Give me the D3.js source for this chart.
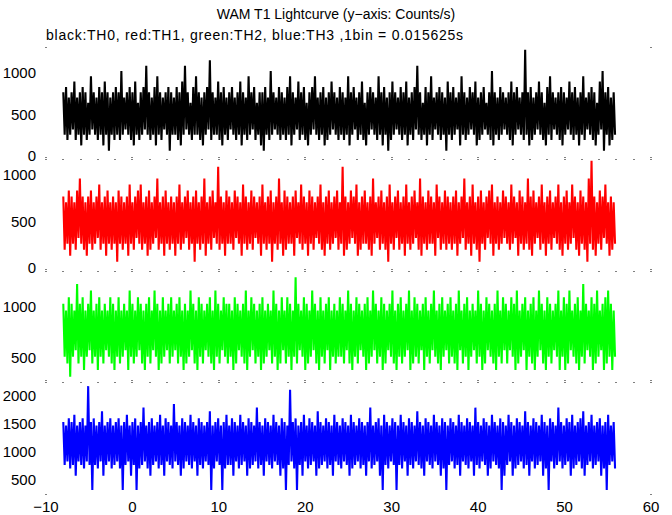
<!DOCTYPE html>
<html><head><meta charset="utf-8">
<script src="https://cdn.jsdelivr.net/npm/d3@7"></script>
<style>
html,body{margin:0;padding:0;background:#fff;}
svg{display:block;font-family:"Liberation Sans",Arial,Helvetica,sans-serif;}
</style>
</head><body>
<svg id="chart" width="672" height="515"></svg>
<script>
// ---- text ----
const titleText = "WAM T1 Lightcurve (y\u2212axis: Counts/s)";
const subtitleText = "black:TH0, red:TH1, green:TH2, blue:TH3 ,1bin = 0.015625s";

// ---- x axis ----
const xDomain = [-10, 60];
const xTickValues = [-10, 0, 10, 20, 30, 40, 50, 60];
const timeStart = -8;        // first bin time (s)
const groupWidth = 0.32;     // seconds per plotted min/max group

// ---- per-panel y ranges and tick labels ----
const th0Domain = [-36, 1313], th0Ticks = [0, 500, 1000];
const th1Domain = [-32, 1172], th1Ticks = [0, 500, 1000];
const th2Domain = [269, 1346], th2Ticks = [500, 1000];
const th3Domain = [250, 2250], th3Ticks = [500, 1000, 1500, 2000];

// ---- series: per-group max / min count rate (counts/s) ----
const th0Hi = [
768,832,704,768,896,704,768,832,768,640,960,768,704,832,768,896,768,704,768,832,
768,1024,704,768,832,768,896,640,768,832,1088,768,704,832,960,768,704,768,832,768,
704,832,768,896,1088,768,640,832,960,768,704,768,832,1152,768,704,896,768,832,704,
768,832,704,768,896,768,704,960,768,832,640,768,768,832,704,1024,768,704,832,768,
704,832,960,768,704,896,768,832,640,768,832,960,704,768,832,704,768,896,768,704,
832,768,704,960,768,832,704,768,896,640,768,832,768,704,960,768,832,704,768,896,
768,704,832,768,896,704,768,832,1088,768,640,832,768,960,704,768,832,768,704,896,
768,832,704,768,960,768,704,832,768,896,704,768,832,640,768,1024,768,704,832,768,
704,768,896,768,832,704,768,1280,768,832,704,768,896,768,640,832,960,768,704,768,
832,768,704,896,768,832,704,768,960,704,768,832,768,640,896,1024,768,832,704,768];
const th0Lo = [
256,192,256,320,192,256,128,256,192,256,320,256,192,256,128,256,64,256,192,256,
192,256,320,256,192,128,256,192,256,320,256,192,256,128,256,192,320,256,64,256,
256,192,128,256,320,256,192,256,256,192,128,256,320,192,256,256,192,128,256,192,
320,256,192,256,128,256,192,256,320,192,256,128,64,256,192,256,320,256,192,256,
192,256,128,256,320,192,256,192,128,256,320,256,192,256,128,192,256,320,256,192,
256,192,256,128,256,320,192,256,192,128,256,320,256,192,256,128,256,64,192,256,
320,256,192,256,128,256,192,320,256,192,256,128,256,192,320,256,192,256,64,256,
192,256,320,128,256,192,256,320,256,128,192,256,320,256,192,128,256,192,256,320,
256,192,128,256,320,256,192,256,128,192,256,320,256,192,128,256,192,320,256,192,
128,256,320,256,192,256,128,256,192,320,256,192,128,256,320,64,256,128,192,256];

const th1Hi = [
768,704,832,768,704,832,960,768,704,768,832,704,768,896,704,768,832,704,768,704,
832,768,704,768,896,704,768,832,896,704,768,832,704,768,960,704,768,832,704,768,
704,768,896,704,768,832,704,768,832,704,768,960,704,768,832,704,1088,768,704,832,
768,704,832,768,704,896,768,704,832,768,704,768,896,704,768,832,704,768,960,704,
832,768,704,768,832,704,896,768,704,832,768,704,768,896,704,768,832,704,768,832,
704,1088,768,704,832,768,896,704,768,832,704,768,960,704,768,832,704,768,896,704,
768,832,704,768,896,704,768,832,704,960,768,704,832,768,704,896,768,704,832,768,
704,768,832,704,768,960,704,768,896,704,768,832,704,768,832,896,704,768,704,832,
768,704,896,768,704,832,768,704,960,768,832,704,768,896,704,768,832,704,768,896,
704,768,832,704,896,768,704,832,768,704,960,1152,768,704,832,768,896,704,768,704];
const th1Lo = [
192,256,128,256,192,320,256,192,128,256,192,256,320,192,256,128,256,192,256,64,
256,192,256,128,256,192,320,256,192,256,128,192,256,320,192,256,128,256,192,256,
128,256,192,256,320,192,256,64,256,192,256,128,256,192,320,256,192,256,128,256,
256,192,320,256,128,256,192,256,192,320,256,128,256,192,256,64,256,192,256,128,
192,256,256,128,320,256,192,256,128,256,192,320,256,192,128,256,192,256,320,192,
256,128,192,256,320,256,128,192,256,256,192,128,256,320,192,256,192,64,256,192,
320,192,256,128,256,192,256,320,192,128,256,192,256,256,128,320,192,256,192,256,
192,256,128,256,320,192,256,128,256,192,64,256,192,320,256,128,256,192,256,320,
256,192,256,320,128,256,192,256,192,128,256,320,192,256,128,256,192,320,256,192,
128,256,192,256,320,192,128,256,192,64,256,192,128,256,192,320,256,128,192,256];

const th2Hi = [
1024,960,1088,1024,960,1216,1024,1088,960,1024,1152,960,1024,1088,960,1024,960,1088,1024,960,
1088,960,1024,960,1152,1024,960,1088,1024,960,1024,1088,960,1152,1024,960,1088,960,1024,1088,
960,1024,1088,960,1024,960,1152,1024,960,1088,1024,960,1024,1088,960,1152,1024,960,1088,1024,
1024,960,1088,1024,960,1024,1152,960,1088,1024,960,1024,1088,960,1024,960,1152,1024,960,1088,
960,1088,1024,960,1280,1024,960,1088,1024,960,1152,1024,960,1088,960,1024,1088,960,1024,960,
1088,1024,960,1152,1024,960,1088,1024,960,1024,1088,960,1152,1024,960,1088,1024,960,1024,1152,
960,1024,1088,960,1024,1152,960,1088,1024,960,1024,1088,960,1024,1152,960,1024,1088,960,1024,
1088,960,1024,1152,960,1024,1088,960,1024,960,1152,1024,960,1088,1024,960,1024,1152,960,1088,
1024,960,1088,1024,1152,960,1024,1088,960,1024,1088,960,1152,1024,960,1088,1024,960,1024,1152,
960,1088,1024,1152,960,1024,1088,960,1216,1024,960,1088,1024,1152,960,1024,1088,1152,1024,960];
const th2Lo = [
512,448,320,512,576,448,512,384,512,576,448,512,384,512,448,576,512,448,384,512,
448,512,576,384,512,448,512,576,448,384,512,448,576,512,384,448,512,576,448,512,
576,448,512,384,448,512,576,448,384,512,448,576,512,448,384,512,448,576,512,448,
512,384,448,576,512,448,384,512,576,448,512,384,448,512,576,448,512,384,448,576,
448,512,384,512,448,576,512,384,448,512,576,448,384,512,448,576,384,512,448,512,
512,448,576,448,384,512,448,576,512,384,448,512,576,448,512,384,448,576,512,448,
384,512,448,512,576,384,448,512,448,576,384,512,448,576,512,448,384,512,576,448,
512,448,384,576,448,512,384,512,576,448,512,384,448,576,512,448,384,512,448,576,
448,576,512,384,448,512,576,384,512,448,384,512,576,448,384,512,448,576,512,384,
512,384,448,576,512,448,384,512,448,576,512,384,448,512,576,384,448,512,384,512];

const th3Hi = [
1536,1472,1600,1536,1664,1472,1536,1600,1472,2176,1536,1600,1472,1536,1728,1472,1536,1600,1472,1536,
1600,1472,1536,1664,1472,1536,1600,1472,1536,1792,1472,1536,1600,1472,1536,1664,1472,1600,1536,1472,
1856,1536,1472,1600,1536,1472,1664,1536,1472,1600,1536,1472,1536,1728,1472,1536,1600,1472,1536,1664,
1472,1600,1536,1472,1664,1536,1472,1600,1536,1472,1792,1536,1472,1600,1536,1472,1664,1536,1472,1600,
1536,1472,2112,1536,1600,1472,1536,1664,1472,1600,1536,1472,1728,1536,1472,1600,1536,1472,1664,1536,
1472,1600,1536,1472,1664,1536,1472,1600,1536,1472,1536,1792,1472,1536,1600,1472,1664,1536,1472,1600,
1536,1472,1664,1536,1472,1600,1536,1472,1728,1536,1472,1600,1536,1472,1664,1536,1472,1600,1536,1472,
1600,1536,1472,1664,1536,1472,1600,1536,1472,1792,1536,1472,1600,1536,1472,1664,1536,1472,1600,1536,
1472,1664,1536,1472,1600,1536,1472,1728,1536,1472,1600,1536,1472,1664,1536,1472,1600,1536,1472,1792,
1536,1472,1600,1536,1664,1472,1536,1600,1728,1472,1536,1664,1472,1536,1600,1472,1536,1664,1472,1536];
const th3Lo = [
768,832,704,768,576,832,768,704,832,768,320,768,704,832,576,768,832,704,768,832,
704,320,768,832,576,768,320,704,768,832,704,576,768,832,704,768,576,832,768,704,
832,768,576,704,832,768,704,832,576,768,704,832,768,320,704,832,768,320,704,768,
768,576,832,704,768,832,576,704,768,832,704,768,576,832,768,704,832,768,576,704,
320,768,832,704,320,768,576,832,704,768,832,576,704,768,832,704,768,576,832,768,
704,832,768,576,704,768,832,704,768,576,832,704,768,832,576,320,768,704,832,768,
320,768,704,832,576,768,704,832,768,704,576,832,768,704,832,768,576,704,320,768,
832,704,768,576,832,768,704,832,576,768,704,832,768,576,704,832,768,704,320,576,
768,832,576,704,768,832,704,768,576,832,704,768,832,576,704,320,832,704,768,832,
704,768,832,576,704,768,832,704,576,768,832,704,768,832,576,704,320,768,832,704];

// ---- layout ----
const W = 672, H = 515;
const left = 46, right = 651;
const bounds = [47, 159, 270.5, 382, 494];

const panels = [
  {hi: th0Hi, lo: th0Lo, domain: th0Domain, ticks: th0Ticks, color: "#000000"},
  {hi: th1Hi, lo: th1Lo, domain: th1Domain, ticks: th1Ticks, color: "#ff0000"},
  {hi: th2Hi, lo: th2Lo, domain: th2Domain, ticks: th2Ticks, color: "#00ff00"},
  {hi: th3Hi, lo: th3Lo, domain: th3Domain, ticks: th3Ticks, color: "#0000ff"}
];

const svg = d3.select("#chart");
svg.append("rect").attr("width", W).attr("height", H).attr("fill", "#fff");

const x = d3.scaleLinear().domain(xDomain).range([left, right]);
const fmt = d3.format("d");

svg.append("text").attr("x", 336).attr("y", 19).attr("text-anchor", "middle")
  .attr("font-size", 14).text(titleText);
svg.append("text").attr("x", 46).attr("y", 40).attr("text-anchor", "start")
  .attr("font-size", 14).attr("textLength", 417).attr("lengthAdjust", "spacing")
  .text(subtitleText);

const defs = svg.append("defs");

panels.forEach((p, k) => {
  const top = bounds[k], bot = bounds[k + 1];
  const y = d3.scaleLinear().domain(p.domain).range([bot, top]);
  defs.append("clipPath").attr("id", "clip" + k)
    .append("rect").attr("x", left).attr("y", top).attr("width", right - left).attr("height", bot - top);

  const pts = [];
  p.hi.forEach((h, i) => {
    const t = timeStart + i * groupWidth;
    pts.push([t, h]);
    pts.push([t + groupWidth / 2, p.lo[i]]);
  });
  const line = d3.line().x(d => x(d[0])).y(d => y(d[1]));
  svg.append("path").attr("d", line(pts)).attr("fill", "none")
    .attr("stroke", p.color).attr("stroke-width", 2.1)
    .attr("stroke-linejoin", "miter").attr("stroke-miterlimit", 2)
    .attr("clip-path", "url(#clip" + k + ")");

  // y tick labels
  const yAxis = svg.append("g");
  p.ticks.forEach(v => {
    yAxis.append("text").attr("x", 36).attr("y", y(v)).attr("dy", "0.36em")
      .attr("text-anchor", "end").attr("font-size", 15).text(fmt(v));
  });
});

// tick dots on internal panel boundaries
const minorTicks = d3.range(-10, 60.001, 2);
[bounds[1], bounds[2], bounds[3]].forEach(by => {
  minorTicks.forEach(v => {
    svg.append("rect").attr("x", Math.round(x(v)) - 0.5).attr("y", Math.round(by))
      .attr("width", 1).attr("height", 1).attr("fill", "#000");
    if (v % 10 === 0) {
      svg.append("rect").attr("x", Math.round(x(v)) - 0.5).attr("y", Math.round(by) - 2)
        .attr("width", 1).attr("height", 1).attr("fill", "#000");
    }
  });
});
// frame corner dots
[bounds[0], bounds[4]].forEach(by => {
  [left, right].forEach(bx => {
    svg.append("rect").attr("x", bx - 0.5).attr("y", by).attr("width", 1).attr("height", 1).attr("fill", "#000");
  });
});

// bottom x axis labels
svg.append("g").selectAll("text").data(xTickValues).join("text")
  .attr("x", d => x(d)).attr("y", 512).attr("text-anchor", "middle")
  .attr("font-size", 15).text(d => d3.format("")(d));
</script>
</body></html>
